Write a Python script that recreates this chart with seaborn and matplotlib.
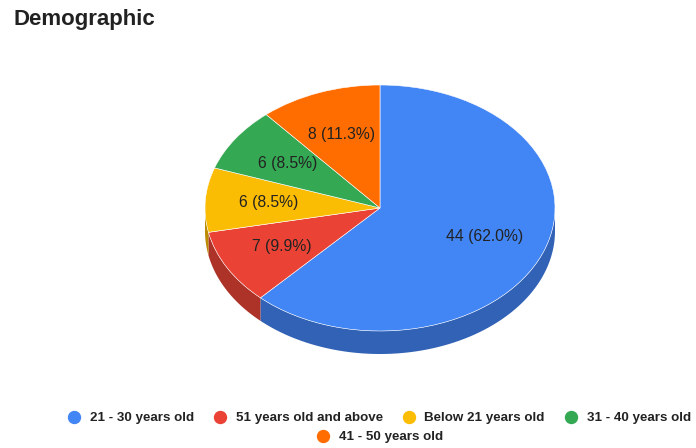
import numpy as np
import matplotlib
matplotlib.use("Agg")
import matplotlib.pyplot as plt
from matplotlib.lines import Line2D
from matplotlib.colors import to_rgb
import seaborn as sns

# Survey responses by age group (in drawing order, clockwise from 12 o'clock)
categories = ["21 - 30 years old", "51 years old and above", "Below 21 years old",
              "31 - 40 years old", "41 - 50 years old"]
counts = [44, 7, 6, 6, 8]
colors = ["#4285F4", "#EA4335", "#FBBC04", "#34A853", "#FF6D01"]
title = "Demographic"

sns.set_theme(style="white")
plt.rcParams["font.family"] = ["Liberation Sans", "DejaVu Sans"]

W, H = 696, 448
fig = plt.figure(figsize=(W / 100, H / 100), dpi=100)

# Pie axes: x scale 175 px per unit, y scale 123 px per unit -> tilted ellipse
cx, cy = 380, 208          # centre in pixels (from top-left)
rx, ry = 175, 123
ax_w, ax_h = 2.5 * rx, 3.0 * ry
left = cx - ax_w / 2
bottom = (H - cy) - ax_h / 2
ax = fig.add_axes([left / W, bottom / H, ax_w / W, ax_h / H])

total = sum(counts)


def fmt(pct):
    return f"{int(round(pct * total / 100))} ({pct:.1f}%)"


wedges, texts, autotexts = ax.pie(
    counts, colors=colors, startangle=90, counterclock=False,
    autopct=fmt, pctdistance=0.64,
    wedgeprops=dict(edgecolor="white", linewidth=0.4, zorder=3),
    textprops=dict(fontsize=11.3, color="#222222"),
)
for t in autotexts:
    t.set_zorder(5)

ax.set_aspect("auto")
ax.set_xlim(-1.25, 1.25)
ax.set_ylim(-1.5, 1.5)
ax.axis("off")

# Extruded side wall for the front half of the pie
depth = 23 / ry


def darken(c, f=0.74):
    r, g, b = to_rgb(c)
    return (r * f, g * f, b * f)


for w, col in zip(wedges, colors):
    t1, t2 = w.theta1, w.theta2
    for lo, hi in [(-180, 0), (180, 360), (-540, -360)]:
        a, b = max(t1, lo), min(t2, hi)
        if b <= a:
            continue
        th = np.radians(np.linspace(a, b, 120))
        xs = np.concatenate([np.cos(th), np.cos(th[::-1])])
        ys = np.concatenate([np.sin(th), np.sin(th[::-1]) - depth])
        ax.fill(xs, ys, color=darken(col), lw=0, zorder=2)

# Title
fig.text(13 / W, (H - 25) / H, title, fontsize=16, fontweight="bold",
         color="#212121", va="baseline", ha="left")

# Legend: four entries on the first row, one centred below
handles = [Line2D([], [], marker="o", linestyle="", markersize=8.6,
                  markerfacecolor=c, markeredgecolor=c) for c in colors]
common = dict(frameon=False, handlelength=1.0, handletextpad=0.68,
              columnspacing=1.45, borderpad=0, borderaxespad=0,
              prop=dict(size=9.6, weight="bold", family=["Liberation Sans", "DejaVu Sans"]),
              labelcolor="#222222", loc="center")
leg1 = fig.legend(handles[:4], categories[:4], ncol=4,
                  bbox_to_anchor=(379 / W, (H - 418) / H), **common)
leg2 = fig.legend(handles[4:], categories[4:], ncol=1,
                  bbox_to_anchor=(380 / W, (H - 437) / H), **common)

fig.savefig("out.png", dpi=100, facecolor="white")
